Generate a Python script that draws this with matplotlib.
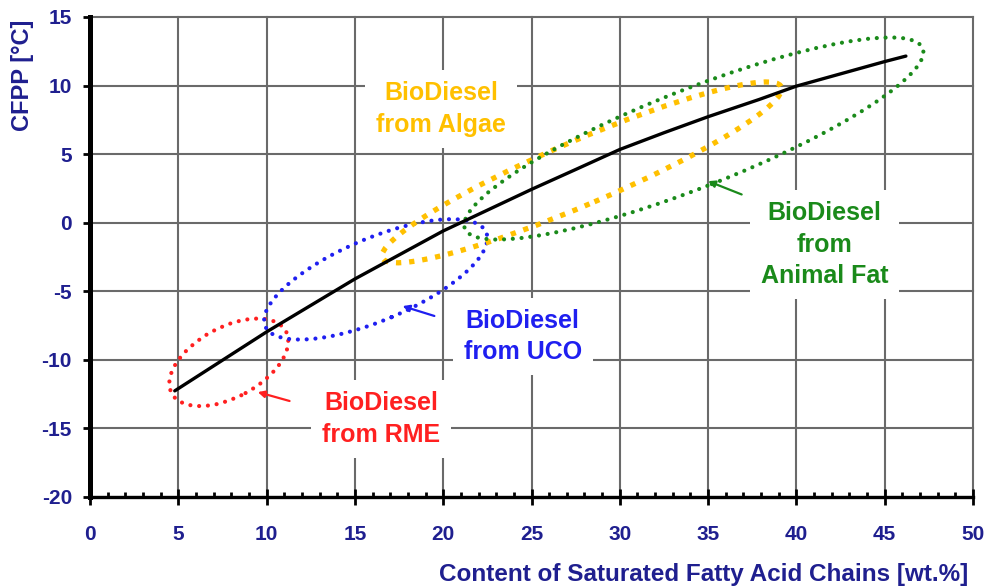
import numpy as np
import matplotlib
matplotlib.use("Agg")
import matplotlib.pyplot as plt
from matplotlib.patches import Ellipse
from matplotlib.transforms import ScaledTranslation

plt.rcParams["axes.unicode_minus"] = False

# ---------------- data ----------------
sat_content = [4.8, 10, 15, 20, 25, 27.5, 30, 32.5, 35, 37.9, 40, 45, 46.2]
cfpp = [-12.26, -7.96, -4.1, -0.6, 2.43, 3.88, 5.34, 6.56, 7.73, 8.99, 9.96, 11.75, 12.15]

x_ticks = [0, 5, 10, 15, 20, 25, 30, 35, 40, 45, 50]
y_ticks = [-20, -15, -10, -5, 0, 5, 10, 15]

feedstocks = ["RME", "UCO", "Algae", "Animal Fat"]
feed_labels = ["BioDiesel\nfrom RME", "BioDiesel\nfrom UCO",
               "BioDiesel\nfrom Algae", "BioDiesel\nfrom\nAnimal Fat"]
# centre of each feedstock region (saturated content, CFPP)
region_x = [7.86, 16.18, 27.85, 34.19]
region_y = [-10.18, -4.13, 3.67, 6.14]

# ---------------- styling / annotation geometry ----------------
colors = ["#FF2020", "#1F1FF0", "#FFC000", "#1A8A1A"]
ell_semi_px = [(65, 35), (120, 41), (217, 32), (246, 49)]
ell_angle = [28.6, 23.0, 23.2, 21.5]
label_pos = [(16.5, -14.3), (24.5, -8.3), (16.2, 8.3), (41.6, -1.6)]
label_ha = ["center", "center", "left", "center"]
arrow_tail = [(11.3, -13.0), (19.5, -6.8), None, (36.9, 2.06)]
arrow_tip = [(9.5, -12.35), (17.7, -6.08), None, (35.0, 3.03)]

navy = "#1F1F8F"
font = "Liberation Sans"

fig = plt.figure(figsize=(9.86, 5.87), dpi=100)
ax = fig.add_axes([90 / 986, 1 - 497 / 587, (973 - 90) / 986, (497 - 17) / 587])

ax.set_xlim(0, 50)
ax.set_ylim(-20, 15)
ax.set_xticks(x_ticks)
ax.set_yticks(y_ticks)
ax.set_xticks(np.arange(0, 51, 1), minor=True)

ax.grid(True, which="major", color="#6A6A6A", lw=1.5, clip_on=False, zorder=0)
ax.set_axisbelow(True)

for s in ["top", "right"]:
    ax.spines[s].set_visible(False)
ax.spines["left"].set_linewidth(3.6)
ax.spines["bottom"].set_linewidth(2.4)
ax.spines["left"].set_zorder(4)
ax.spines["bottom"].set_zorder(4)

ax.tick_params(axis="y", which="major", direction="out", length=5, width=2,
               colors="black", labelcolor=navy, labelsize=15, pad=8)
ax.tick_params(axis="x", which="major", direction="inout", length=12, width=2,
               colors="black", labelcolor=navy, labelsize=15, pad=14)
ax.tick_params(axis="x", which="minor", direction="in", length=3.5, width=2,
               colors="black")
for lab in ax.get_xticklabels() + ax.get_yticklabels():
    lab.set_fontfamily(font)
    lab.set_fontweight("bold")

# main curve
ax.plot(sat_content, cfpp, color="black", lw=2.4, zorder=6,
        solid_capstyle="round", solid_joinstyle="round")

# feedstock regions
for i in range(len(feedstocks)):
    a, b = ell_semi_px[i]
    trans = fig.dpi_scale_trans + ScaledTranslation(region_x[i], region_y[i], ax.transData)
    if feedstocks[i] == "Algae":
        ls = (0, (1.0, 1.5))
        lw = 3.8
        cap = "butt"
    else:
        ls = (0, (0.01, 2.1))
        lw = 3.0
        cap = "round"
    e = Ellipse((0, 0), 2 * a / 100, 2 * b / 100, angle=ell_angle[i],
                transform=trans, fill=False, edgecolor=colors[i], lw=lw,
                linestyle=ls, capstyle=cap, zorder=5, clip_on=False)
    ax.add_patch(e)

    ax.text(label_pos[i][0], label_pos[i][1], feed_labels[i], color=colors[i],
            fontsize=18, fontweight="bold", family=font, ha=label_ha[i],
            va="center", multialignment="center", linespacing=1.4, zorder=3,
            bbox=dict(facecolor="white", edgecolor="none", pad=8))

    if arrow_tail[i] is not None:
        ax.annotate("", xy=arrow_tip[i], xytext=arrow_tail[i],
                    arrowprops=dict(arrowstyle="-|>", color=colors[i], lw=1.6,
                                    mutation_scale=10, shrinkA=0, shrinkB=0),
                    zorder=6)

fig.text(22 / 986, 1 - 75 / 587, "CFPP [°C]", rotation=90, ha="center",
         va="center", color=navy, fontsize=17, fontweight="bold", family=font)
fig.text(704 / 986, 1 - 575 / 587, "Content of Saturated Fatty Acid Chains [wt.%]",
         ha="center", va="center", color=navy, fontsize=17.5, fontweight="bold",
         family=font)

fig.savefig("out.png", dpi=100)
